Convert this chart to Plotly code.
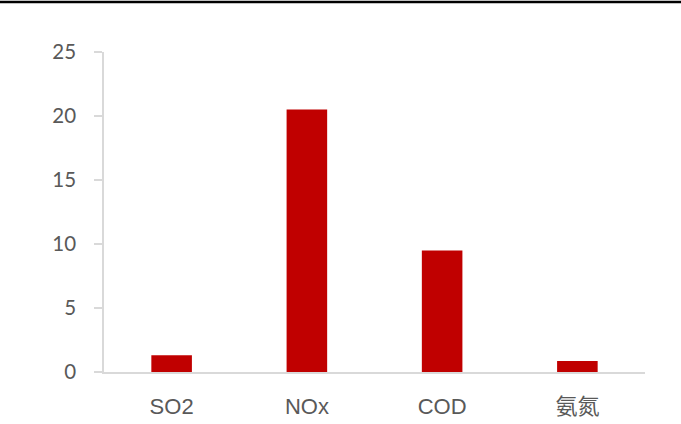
import plotly.graph_objects as go

# Emission reductions by pollutant
categories = ["SO2", "NOx", "COD", "氨氮"]
values = [1.3, 20.5, 9.5, 0.85]
y_ticks = [0, 5, 10, 15, 20, 25]

W, H = 681, 424
ML, MR, MT, MB = 104, 36, 52, 52
plot_w = W - ML - MR
plot_h = H - MT - MB

fig = go.Figure(
    go.Bar(
        x=categories,
        y=values,
        marker=dict(color="#C00000", line=dict(width=0)),
        hoverinfo="x+y",
    )
)

fig.update_layout(
    width=W,
    height=H,
    margin=dict(l=ML, r=MR, t=MT, b=MB),
    plot_bgcolor="white",
    paper_bgcolor="white",
    bargap=0.70,
    showlegend=False,
    xaxis=dict(
        automargin=False,
        showline=True,
        linecolor="#d9d9d9",
        linewidth=1.5,
        ticks="",
        showgrid=False,
        zeroline=False,
        tickfont=dict(family="Liberation Sans, Noto Sans CJK SC", size=22, color="#595959"),
        ticklabelstandoff=14,
    ),
    yaxis=dict(
        automargin=False,
        range=[0, 25],
        tickvals=y_ticks,
        showline=True,
        linecolor="#d9d9d9",
        linewidth=1.5,
        ticks="outside",
        ticklen=8,
        tickcolor="#d9d9d9",
        tickwidth=1.5,
        showgrid=False,
        zeroline=False,
        tickfont=dict(family="Lato", size=20.5, color="#595959"),
        ticklabelstandoff=14,
    ),
)

# Heavy rule across the top of the page
fig.add_shape(
    type="line",
    xref="paper",
    yref="paper",
    x0=-ML / plot_w,
    x1=(W - ML) / plot_w,
    y0=1 + (MT - 2) / plot_h,
    y1=1 + (MT - 2) / plot_h,
    line=dict(color="black", width=2.5),
)

fig.write_html("out.html")
